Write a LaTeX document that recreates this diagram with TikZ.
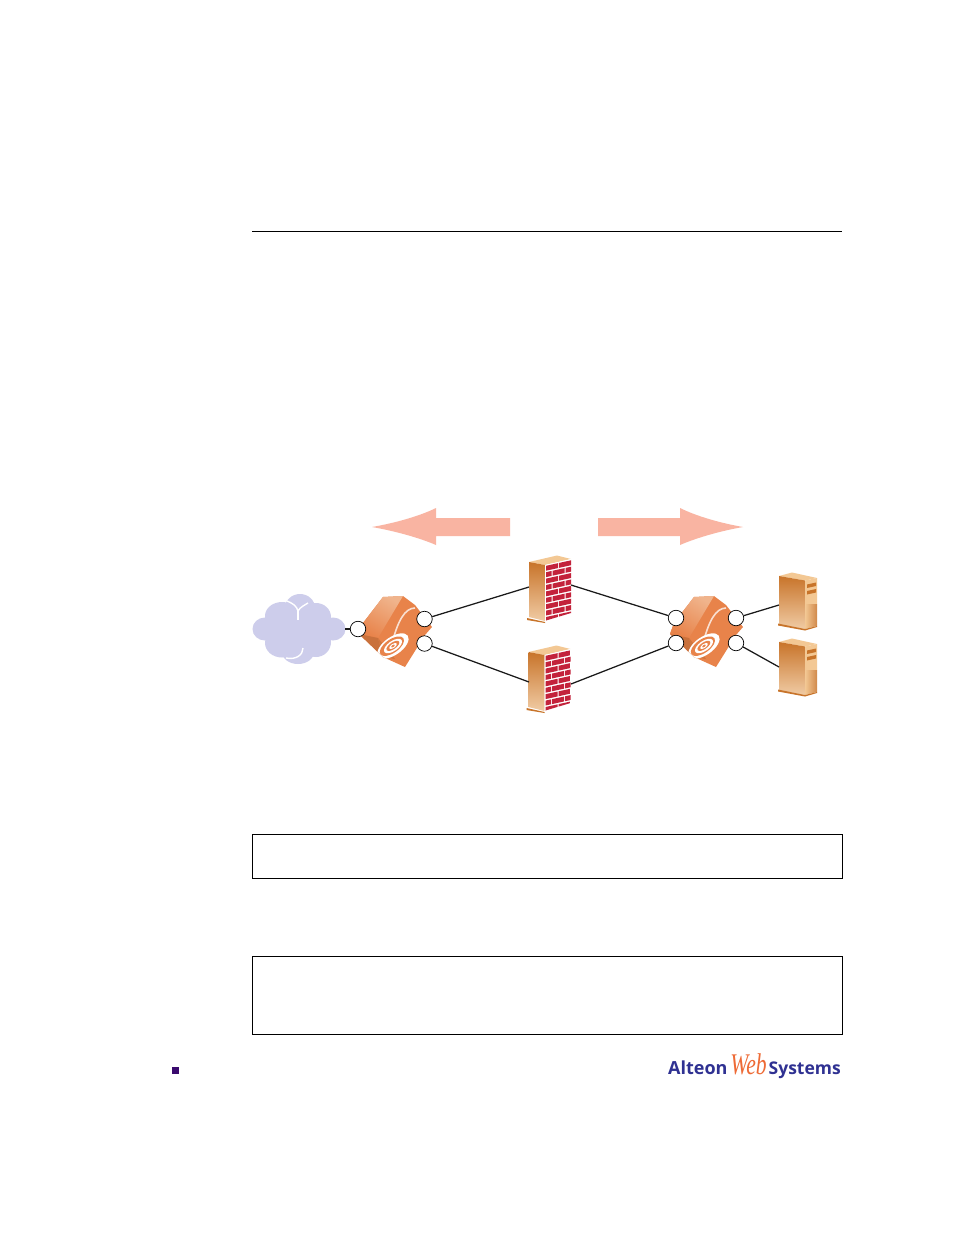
\documentclass[tikz,border=0pt]{standalone}
\usepackage{fontspec}
\setmainfont{Open Sans}
\newfontfamily\webfont{Liberation Serif}
\usetikzlibrary{calc}
\definecolor{arrowpink}{HTML}{F9B4A2}
\definecolor{cloudlilac}{HTML}{CDCDEB}
\definecolor{swmain}{HTML}{E8834A}
\definecolor{swlight}{HTML}{F0B48C}
\definecolor{swdark}{HTML}{C9713C}
\definecolor{brick}{HTML}{C3223B}
\definecolor{tan}{HTML}{F3C894}
\definecolor{tandark}{HTML}{C8742A}
\definecolor{tanlight}{HTML}{F0CBA4}
\definecolor{logoblue}{HTML}{2F3192}
\definecolor{logoorange}{HTML}{EE6A35}
\definecolor{bullet}{HTML}{3A0A6E}
\tikzset{
  port/.style={circle,draw=black,fill=white,line width=.7pt,minimum size=15.5pt,inner sep=0pt},
  link/.style={draw=black!90,line width=1.25pt},
  framebox/.style={draw=black,line width=.6pt},
  bigarrow/.style={fill=arrowpink},
  pics/switchbox/.style={code={
    \fill[swmain] (-34,5) -- (-30,-6) -- (-10,-32) -- (10,-33) -- (22,-24) -- (39,-2) -- (32,6) -- (12,38) -- (-10,28) -- cycle;
    \begin{scope}
      \clip (-34,5) -- (-30,-6) -- (-10,-32) -- (10,-33) -- (22,-24) -- (39,-2) -- (32,6) -- (12,38) -- (-10,28) -- cycle;
      \shade[top color=swlight,bottom color=swmain,shading angle=-30] (-34,5) -- (-30,-6) -- (-10,-32) -- (10,-33) -- (-15,9) -- cycle;
      \fill[swdark] (-34,5) -- (-15,9) -- (-10,28) -- cycle;
      \fill[swdark!80!swmain] (-15,9) -- (2,30) -- (-10,28) -- cycle;
      \draw[white!75!swmain,line width=1.6pt] (0,11) .. controls (5,-8) and (12,-21) .. (22,-21);
      \begin{scope}[rotate around={35:(0,17)}]
        \fill[white] (0,17) ellipse (18 and 9);
        \fill[swmain] (-1,16.5) ellipse (14 and 6.8);
        \fill[white] (0,17) ellipse (10.5 and 5);
        \fill[swmain] (0,16.8) ellipse (7.5 and 3.3);
        \fill[white] (0,17) ellipse (4.5 and 2);
        \fill[swmain] (0,17) ellipse (2 and 1);
      \end{scope}
    \end{scope}
  }},
  pics/firewall/.style={code={
    \fill[tan] (0,0) -- (28,-6.5) -- (42,-3) -- (16,3) -- cycle;
    \shade[top color=tandark,bottom color=tanlight] (0,0) -- (16,3) -- (16,59) -- (0,55) -- cycle;
    \fill[tandark] (-2,56) -- (16,60) -- (16,61) -- (-2,58) -- cycle;
    \fill[white] (16,3) -- (42,-3) -- (42,52) -- (16,60) -- cycle;
    \begin{scope}
      \clip (17,3.5) -- (42,-2) -- (42,51) -- (17,58.5) -- cycle;
      \foreach \r in {0,...,8}{
        \pgfmathsetmacro{\ya}{3.8+\r*6.4}
        \pgfmathsetmacro{\off}{mod(\r,2)*6.5}
        \foreach \c in {-1,0,1,2}{
          \pgfmathsetmacro{\xa}{17+\c*13+\off}
          \fill[brick] (\xa,\ya-.22*\xa+3.74) -- ++(12,-2.64) -- ++(0,4.9) -- ++(-12,2.64) -- cycle;
        }
      }
    \end{scope}
  }},
  pics/serverbox/.style={code={
    \fill[tan] (0,0) -- (13,-3.5) -- (38,2) -- (26,4.5) -- cycle;
    \shade[top color=tandark,bottom color=tanlight] (0,0) -- (26,4.5) -- (26,53) -- (0,48) -- cycle;
    \fill[tan] (26,4.5) -- (38,2) -- (38,28) -- (26,28) -- cycle;
    \shade[left color=tan,right color=tandark!85!white] (26,28) -- (38,28) -- (38,50) -- (26,53) -- cycle;
    \fill[tandark] (28,8.5) -- (37,6.5) -- (37,10) -- (28,12) -- cycle;
    \fill[tandark] (28,15) -- (37,13) -- (37,16.5) -- (28,18.5) -- cycle;
    \fill[tandark] (-1,47.5) -- (26,53) -- (38,50) -- (38,51) -- (26,54.5) -- (-1,49.5) -- cycle;
  }}
}
\begin{document}
\begin{tikzpicture}[x=1pt,y=-1pt]
\useasboundingbox (0,0) rectangle (954,1235);
\fill[white] (0,0) rectangle (954,1235);
% top rule
\coordinate (ruleL) at (252,231.5);
\coordinate (ruleR) at (842,231.5);
\draw[black,line width=.7pt] (ruleL) -- (ruleR);
% flow arrows
\fill[bigarrow] (372,527) .. controls (395,523) and (420,516) .. (436,508) -- (436,518) -- (510,518) -- (510,536) -- (436,536) -- (436,545) .. controls (420,538) and (395,531) .. (372,527) -- cycle;
\fill[bigarrow] (743,527) .. controls (720,523) and (696,516) .. (680,508) -- (680,518) -- (598,518) -- (598,536) -- (680,536) -- (680,545) .. controls (696,538) and (720,531) .. (743,527) -- cycle;
% cloud
\begin{scope}[cloudlilac]
  \fill (299,629) ellipse (33 and 22);
  \fill (300,608) ellipse (15 and 14);
  \fill (282,616) ellipse (17 and 14);
  \fill (316,617) ellipse (15 and 14);
  \fill (265,629) ellipse (12.5 and 11.5);
  \fill (333,629) ellipse (12.5 and 11.5);
  \fill (282,643) ellipse (17 and 14.5);
  \fill (316,642) ellipse (15 and 15);
  \fill (298,652) ellipse (16 and 12);
\end{scope}
\draw[white,line width=1.4pt] (287,601) .. controls (292,603) and (297,606) .. (298,611) .. controls (300,607) and (305,605) .. (308,603);
\draw[white,line width=1.4pt] (298,611) -- (298,620);
\draw[white,line width=1.4pt] (303,648) .. controls (303,655) and (296,660) .. (286,658);
\coordinate (cloudEdge) at (345,629);
% anchors on firewalls and servers
\coordinate (fwAleft) at (529,587);
\coordinate (fwAright) at (571,585);
\coordinate (fwBleft) at (529,682);
\coordinate (fwBright) at (571,684);
\coordinate (srvA) at (779,605);
\coordinate (srvB) at (779,667);
% devices
\pic at (393,629) {switchbox};
\pic at (704,629) {switchbox};
\pic at (529,562) {firewall};
\pic at (528.5,652) {firewall};
\pic at (779,576) {serverbox};
\pic at (779,642) {serverbox};
% ports
\node[port] (pL) at (358,629) {};
\node[port] (pLa) at (424.5,619) {};
\node[port] (pLb) at (424.5,643.5) {};
\node[port] (pRa) at (676,618) {};
\node[port] (pRb) at (676,643) {};
\node[port] (pRc) at (736,618) {};
\node[port] (pRd) at (736,643) {};
% links
\draw[link] (cloudEdge) -- (pL);
\draw[link] (pLa) -- (fwAleft);
\draw[link] (pLb) -- (fwBleft);
\draw[link] (fwAright) -- (pRa);
\draw[link] (fwBright) -- (pRb);
\draw[link] (pRc) -- (srvA);
\draw[link] (pRd) -- (srvB);
% empty boxes
\draw[framebox] (252.5,834.5) rectangle (842.5,878.5);
\draw[framebox] (252.5,956.5) rectangle (842.5,1034.5);
% bullet
\fill[bullet] (172,1067) rectangle (179,1074);
% logo
\node[anchor=base west,inner sep=0pt,text=logoblue,font=\fontsize{18}{18}\selectfont\bfseries] (logoA) at (668,1074) {Alteon};
\node[anchor=base,inner sep=0pt,xscale=.72,text=logoorange,font=\fontsize{30}{30}\webfont\itshape] (logoW) at (748.5,1074.5) {Web};
\node[anchor=base east,inner sep=0pt,text=logoblue,font=\fontsize{17.5}{18}\selectfont\bfseries] (logoS) at (841,1074) {Systems};
\end{tikzpicture}
\end{document}
